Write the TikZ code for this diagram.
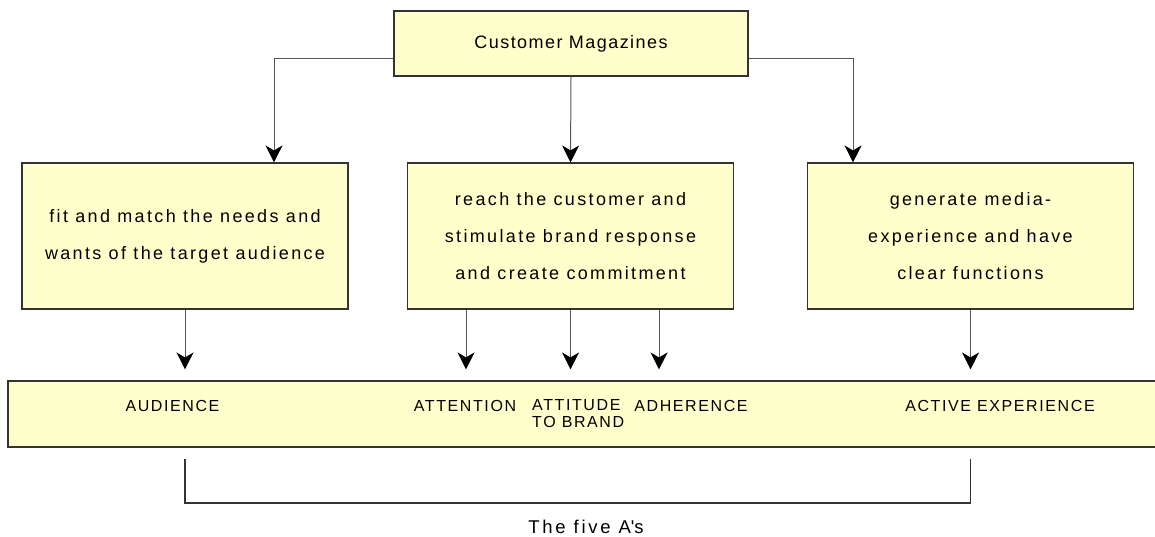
\documentclass[tikz,border=0pt]{standalone}
\usepackage{fontspec}
\setmainfont{Liberation Sans}
\usetikzlibrary{arrows.meta}
\definecolor{boxfill}{HTML}{FFFFCC}
\definecolor{boxline}{HTML}{333333}
\definecolor{wire}{HTML}{555555}
\begin{document}
\begin{tikzpicture}[x=1pt,y=-1pt,
  box/.style={draw=boxline, fill=boxfill, line width=1.1pt, inner sep=0pt, align=center},
  stepbox/.style={box, minimum width=326pt, minimum height=146pt,
    font=\fontsize{18}{37}\selectfont\addfontfeature{LetterSpace=13}},
  link/.style={draw=wire, line width=1pt, -{Stealth[length=17pt,width=17pt,inset=5pt,color=black]}},
  drop/.style={link, shorten >=11pt},
  tag/.style={inner sep=0pt, font=\fontsize{16}{17}\selectfont\addfontfeature{LetterSpace=10}},
  bracket/.style={draw=boxline, line width=1.2pt}
]
\useasboundingbox (0,0) rectangle (1155,536);

% boxes
\node[box, minimum width=354pt, minimum height=65pt,
  font=\fontsize{18}{22}\selectfont\addfontfeature{LetterSpace=8}] (cm) at (571,43.5) {Customer Magazines};
\node[stepbox] (fit) at (185,236) {fit and match the needs and\\wants of the target audience};
\node[stepbox] (reach) at (570.5,236) {reach the customer and\\stimulate brand response\\and create commitment};
\node[stepbox] (gen) at (970.5,236) {generate media-\\experience and have\\clear functions};
\node[box, minimum width=1152pt, minimum height=66pt] (bar) at (584,414) {};

% labels in the bar
\node[tag, anchor=base] (aud) at (172.5,411) {AUDIENCE};
\node[tag, anchor=base] (att) at (465,411) {ATTENTION};
\node[tag, anchor=north west, align=left] (atb) at (532,399.5) {ATTITUDE\\TO BRAND};
\node[tag, anchor=base] (adh) at (691,411) {ADHERENCE};
\node[tag, anchor=base] (act) at (1000,411) {ACTIVE EXPERIENCE};

% connector end points
\coordinate (cmL) at ([yshift=-14.5pt]cm.west);
\coordinate (cmR) at ([yshift=-14.5pt]cm.east);
\path (fit.north) ++(89,0) coordinate (fitin);
\path (gen.north) ++(-117.5,0) coordinate (genin);
\path (reach.south) ++(-104.5,0) coordinate (r1);
\path (reach.south) ++(88.5,0) coordinate (r3);

% top level fan-out
\draw[link] (cmL) -| (fitin);
\draw[link] (cm.south) -- (reach.north);
\draw[link] (cmR) -| (genin);

% arrows into the bar
\draw[drop] (fit.south) -- (fit.south |- bar.north);
\draw[drop] (r1) -- (r1 |- bar.north);
\draw[drop] (reach.south) -- (reach.south |- bar.north);
\draw[drop] (r3) -- (r3 |- bar.north);
\draw[drop] (gen.south) -- (gen.south |- bar.north);

% bracket grouping the five A's
\coordinate (bl) at (fit.south |- 0,459);
\coordinate (br) at (gen.south |- 0,459);
\draw[bracket] (bl) -- ++(0,44) -| (br);
\node[inner sep=0pt, anchor=base,
  font=\fontsize{18.5}{20}\selectfont\addfontfeature{LetterSpace=15}] (five) at (586,533) {The five A\textquotesingle s};
\end{tikzpicture}
\end{document}
